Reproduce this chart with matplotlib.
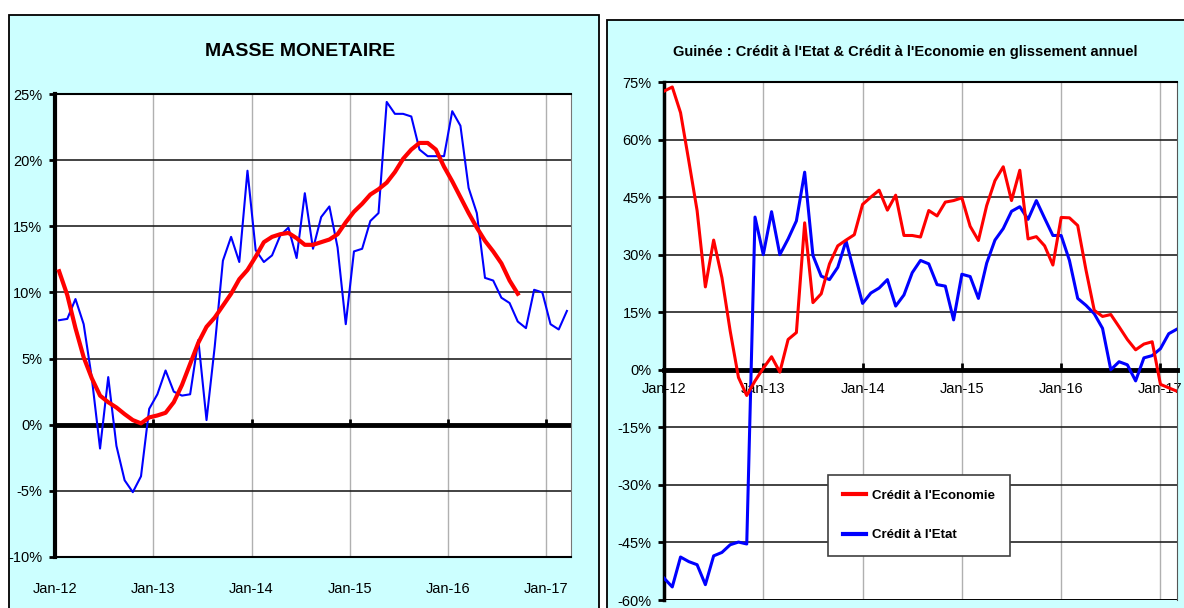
import matplotlib
matplotlib.use('Agg')
import matplotlib.pyplot as plt
from matplotlib.patches import Rectangle
import numpy as np

W, H = 1184, 608

# year labels (gridlines every 12 months, starting Jan-12)
annees = ['Jan-12', 'Jan-13', 'Jan-14', 'Jan-15', 'Jan-16', 'Jan-17']

# left chart: masse monetaire, monthly from Jan-12 (%)
masse_glissement = [7.9, 8.0, 9.5, 7.6, 3.5, -1.8, 3.6, -1.6, -4.2, -5.1,
                    -3.9, 1.2, 2.3, 4.1, 2.5, 2.2, 2.3, 6.4, 0.35, 5.9,
                    12.4, 14.2, 12.3, 19.2, 13.2, 12.3, 12.8, 14.3, 14.9, 12.6,
                    17.5, 13.3, 15.7, 16.5, 13.4, 7.6, 13.1, 13.3, 15.4, 16.0,
                    24.4, 23.5, 23.5, 23.3, 20.8, 20.3, 20.3, 20.3, 23.7, 22.6,
                    17.9, 16.0, 11.1, 10.9, 9.6, 9.2, 7.8, 7.3, 10.2, 10.0,
                    7.6, 7.2, 8.6]
masse_tendance = [11.6, 9.8, 7.3, 5.1, 3.5, 2.2, 1.7, 1.3, 0.8, 0.35,
                  0.1, 0.55, 0.7, 0.9, 1.7, 3.0, 4.6, 6.2, 7.4, 8.1,
                  9.0, 9.9, 11.0, 11.7, 12.7, 13.8, 14.2, 14.4, 14.5, 14.1,
                  13.6, 13.6, 13.8, 14.0, 14.4, 15.3, 16.1, 16.7, 17.4, 17.8,
                  18.3, 19.1, 20.1, 20.8, 21.3, 21.3, 20.8, 19.5, 18.4, 17.2,
                  16.0, 14.9, 13.9, 13.1, 12.2, 10.9, 9.9]

# right chart: credit, monthly from Jan-12 (%)
credit_economie = [72.6, 73.7, 67.0, 54.4, 41.5, 21.6, 33.8, 24.0, 10.1, -2.0,
                   -6.7, -2.9, 0.4, 3.4, -0.6, 7.9, 9.7, 38.3, 17.5, 19.8,
                   27.6, 32.3, 33.8, 35.2, 43.1, 45.0, 46.8, 41.6, 45.5, 35.0,
                   35.0, 34.6, 41.5, 40.1, 43.7, 44.1, 44.8, 37.4, 33.7, 42.8,
                   49.3, 52.9, 44.1, 52.0, 34.1, 34.7, 32.3, 27.3, 39.7, 39.6,
                   37.6, 26.0, 15.5, 13.9, 14.4, 11.2, 7.9, 5.2, 6.7, 7.3,
                   -3.8, -4.7, -5.6]
credit_etat = [-54.3, -56.6, -48.8, -50.0, -50.8, -56.0, -48.5, -47.6, -45.6, -44.9,
               -45.4, 39.8, 30.0, 41.2, 30.0, 34.1, 38.8, 51.5, 29.8, 24.4,
               23.5, 26.7, 33.6, 25.3, 17.3, 20.0, 21.3, 23.5, 16.6, 19.5,
               25.3, 28.5, 27.6, 22.2, 21.8, 13.0, 24.9, 24.3, 18.6, 27.8,
               33.8, 36.8, 41.3, 42.5, 39.2, 44.1, 39.5, 35.0, 35.0, 28.5,
               18.6, 16.8, 14.6, 10.8, 0.0, 2.1, 1.3, -2.9, 3.1, 3.7,
               5.5, 9.4, 10.6]

plt.rcParams['font.family'] = ['Liberation Sans Narrow', 'Liberation Sans', 'DejaVu Sans']

fig = plt.figure(figsize=(W / 100, H / 100), dpi=100)


def px_box(x0, y0, x1, y1):
    return [x0 / W, 1 - y1 / H, (x1 - x0) / W, (y1 - y0) / H]


# cyan panels behind both charts
for x0, y0, x1, y1 in [(9, 15, 599, 650), (607, 20, 1220, 650)]:
    fig.patches.append(Rectangle((x0 / W, 1 - y1 / H), (x1 - x0) / W, (y1 - y0) / H,
                                 transform=fig.transFigure, facecolor='#ccffff',
                                 edgecolor='black', lw=1.3, zorder=-5))

pct = lambda v, p: f'{v:.0f}%'
fs = 10.5

# ---- left: MASSE MONETAIRE
ax1 = fig.add_axes(px_box(55, 94, 571, 557))
ax1.set_zorder(2)
ax1.plot(np.arange(len(masse_glissement)) + 0.5, masse_glissement, color='#0000ff', lw=1.5, zorder=3)
ax1.plot(np.arange(len(masse_tendance)) + 0.5, masse_tendance, color='#ff0000', lw=3, zorder=4)
ax1.set_xlim(0, 63)
ax1.set_ylim(-10, 25)
ax1.set_yticks(range(-10, 26, 5))
ax1.yaxis.set_major_formatter(pct)
ax1.set_xticks(range(0, 61, 12))
ax1.set_xticklabels(annees)
ax1.tick_params(axis='x', length=0, pad=18, labelsize=fs)
ax1.tick_params(axis='y', length=4, width=2, labelsize=fs, pad=5)
ax1.grid(axis='y', color='#222222', lw=1.2)
ax1.grid(axis='x', color='#b0b0b0', lw=1)
ax1.axhline(0, color='black', lw=3.5, zorder=2)
ax1.vlines(range(12, 61, 12), 0, 0.4, color='black', lw=2, zorder=2)
ax1.spines['left'].set_linewidth(3)
ax1.spines['right'].set_color('#777777')
for s in ['top', 'bottom']:
    ax1.spines[s].set_linewidth(1.5)
fig.text(300 / W, 1 - 52 / H, 'MASSE MONETAIRE', ha='center', va='center',
         fontsize=14, fontweight='bold')

# ---- right: credit
ax2 = fig.add_axes(px_box(664, 82, 1177, 600))
ax2.set_zorder(2)
m = np.arange(len(credit_economie))
ax2.plot(m, credit_economie, color='#ff0000', lw=2.2, zorder=4, label="Crédit à l'Economie")
ax2.plot(np.arange(len(credit_etat)), credit_etat, color='#0000ff', lw=2.2, zorder=3, label="Crédit à l'Etat")
ax2.set_xlim(0, 62)
ax2.set_ylim(-60, 75)
ax2.set_yticks(range(-60, 76, 15))
ax2.yaxis.set_major_formatter(pct)
ax2.set_xticks(range(0, 61, 12))
ax2.set_xticklabels(annees)
ax2.spines['bottom'].set_position(('data', 0))
ax2.spines['bottom'].set_linewidth(3.5)
ax2.spines['left'].set_linewidth(2.5)
ax2.spines['top'].set_linewidth(1.5)
ax2.spines['right'].set_color('#555555')
ax2.axhline(-60, color='black', lw=2, zorder=2)
ax2.tick_params(axis='x', direction='in', length=5, width=2, pad=9, labelsize=fs)
ax2.tick_params(axis='y', length=4, width=2, labelsize=fs, pad=5)
ax2.grid(axis='y', color='#222222', lw=1.2)
ax2.grid(axis='x', color='#b0b0b0', lw=1)
leg = ax2.legend(loc='lower left', bbox_to_anchor=(0.32, 0.085), borderaxespad=0,
                 fancybox=False, edgecolor='#404040', framealpha=1,
                 borderpad=1.1, labelspacing=2.1, handlelength=1.8, handletextpad=0.45,
                 prop={'size': 9.5, 'weight': 'bold'})
leg.get_frame().set_linewidth(1.2)
for h in leg.get_lines():
    h.set_linewidth(3)
fig.text(905 / W, 1 - 52 / H, "Guinée : Crédit à l'Etat & Crédit à l'Economie en glissement annuel",
         ha='center', va='center', fontsize=10.5, fontweight='bold')

fig.savefig('out.png', dpi=100)
